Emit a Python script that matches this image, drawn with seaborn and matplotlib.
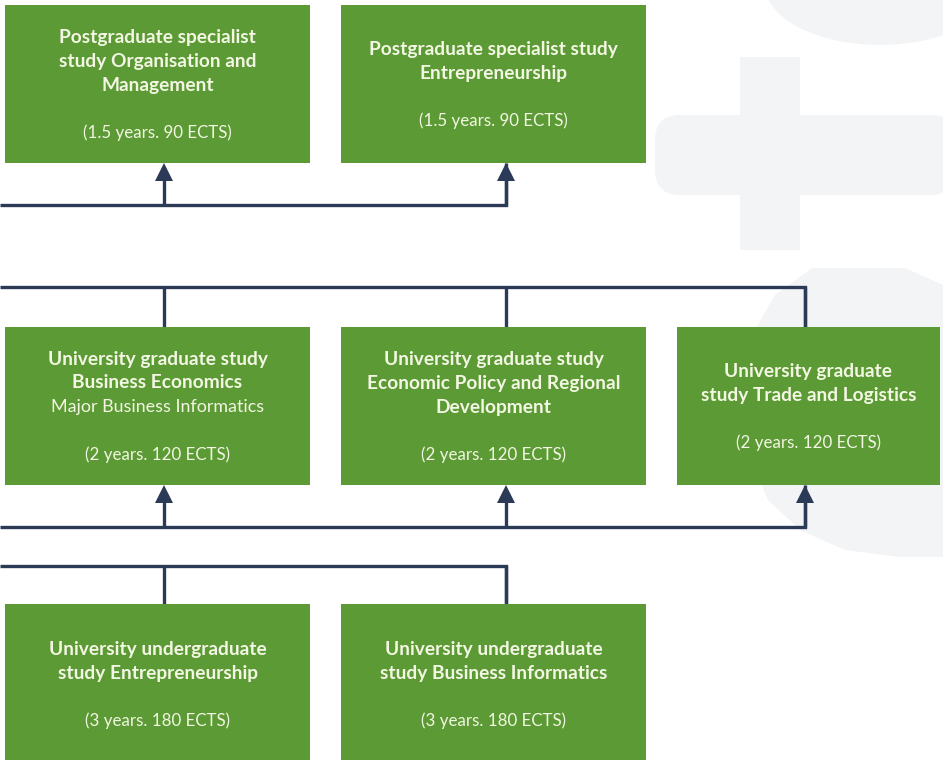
import matplotlib.pyplot as plt
import matplotlib.patches as mpatches
import seaborn as sns

# programme boxes, one list per row (top to bottom)
titles = [
    [["Postgraduate specialist", "study Organisation and", "Management"],
     ["Postgraduate specialist study", "Entrepreneurship"]],
    [["University graduate study", "Business Economics"],
     ["University graduate study", "Economic Policy and Regional", "Development"],
     ["University graduate", "study Trade and Logistics"]],
    [["University undergraduate", "study Entrepreneurship"],
     ["University undergraduate", "study Business Informatics"]],
]
majors = [
    [None, None],
    ["Major Business Informatics", None, None],
    [None, None],
]
durations = [
    ["(1.5 years. 90 ECTS)", "(1.5 years. 90 ECTS)"],
    ["(2 years. 120 ECTS)", "(2 years. 120 ECTS)", "(2 years. 120 ECTS)"],
    ["(3 years. 180 ECTS)", "(3 years. 180 ECTS)"],
]

GREEN = "#5b9a34"
TEXT = "#f2f6e2"
NAVY = "#2a3a57"
GREY = "#f3f4f5"

sns.set_theme(style="white")
plt.rcParams["font.family"] = ["Lato", "DejaVu Sans"]

fig = plt.figure(figsize=(9.43, 7.6), dpi=100)
ax = fig.add_axes([0, 0, 1, 1])
ax.set_xlim(0, 943)
ax.set_ylim(760, 0)
ax.axis("off")

# faint background logo
ax.add_patch(mpatches.Ellipse((880, -15), 230, 120, color=GREY, lw=0, zorder=0))
ax.add_patch(mpatches.Rectangle((740, 57), 60, 193, color=GREY, lw=0, zorder=0))
ax.add_patch(mpatches.FancyBboxPatch((655, 115), 300, 80, boxstyle="round,pad=0,rounding_size=25",
                                     color=GREY, lw=0, zorder=0))
ax.add_patch(mpatches.Polygon([(812, 268), (905, 268), (943, 285), (943, 557), (900, 557),
                               (845, 550), (800, 530), (768, 500), (755, 470), (755, 330),
                               (775, 295)], closed=True, color=GREY, lw=0, zorder=0))

# box layout (pixels)
row_y = [(5, 163), (327, 485), (604, 764)]
col_x = [(5, 310), (341, 646), (677, 940)]
LS = 24
SIZES = {"title": 13.8, "major": 12.9, "dur": 12.2}

for r, row in enumerate(titles):
    y0, y1 = row_y[r]
    for c, tl in enumerate(row):
        x0, x1 = col_x[c]
        ax.add_patch(mpatches.Rectangle((x0, y0), x1 - x0, y1 - y0, color=GREEN, lw=0, zorder=2))
        lines = [(t, "title") for t in tl]
        if majors[r][c]:
            lines.append((majors[r][c], "major"))
        lines.append(("", "dur"))
        lines.append((durations[r][c], "dur"))
        cy = (y0 + y1) / 2 + 1
        start = cy - (len(lines) - 1) * LS / 2
        cx = (x0 + x1) / 2
        for i, (t, kind) in enumerate(lines):
            if t:
                ax.text(cx, start + i * LS, t, ha="center", va="center", color=TEXT,
                        fontsize=SIZES[kind], fontweight="bold" if kind == "title" else "normal",
                        zorder=3)

# connectors
LW = 2.4
def bus(y, xs, target, arrow):
    ax.plot([0, xs[-1], xs[-1]], [y, y, target], color=NAVY, lw=LW, zorder=1,
            solid_joinstyle="miter", solid_capstyle="butt")
    for x in xs:
        if arrow:
            ax.plot([x, x], [y, target + 14], color=NAVY, lw=LW, zorder=1, solid_capstyle="butt")
            ax.add_patch(mpatches.Polygon([(x - 9, target + 18), (x + 9, target + 18), (x, target)],
                                          closed=True, color=NAVY, lw=0, zorder=3))
        else:
            ax.plot([x, x], [y, target], color=NAVY, lw=LW, zorder=1, solid_capstyle="butt")

bus(205, [164, 506], 163, True)
bus(287, [164, 506, 805], 327, False)
bus(527, [164, 506, 805], 485, True)
bus(566, [164, 506], 604, False)

fig.savefig("out.png", dpi=100, facecolor="white")
